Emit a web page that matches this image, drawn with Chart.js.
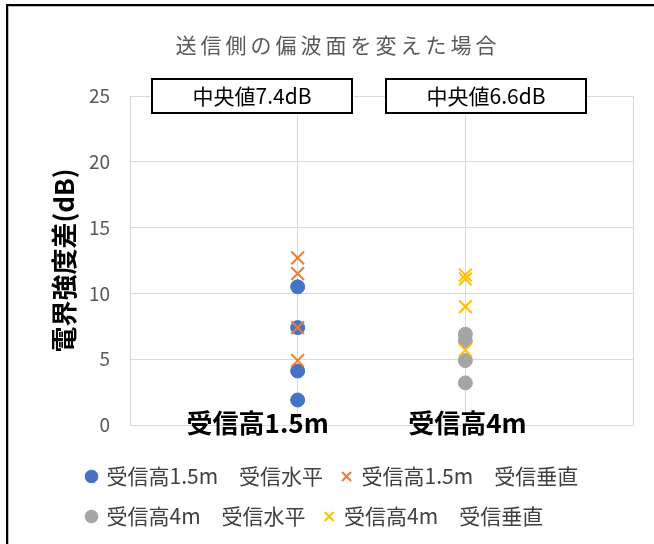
<!DOCTYPE html>
<html>
<head>
<meta charset="utf-8">
<script src="https://cdn.jsdelivr.net/npm/chart.js@4.4.0/dist/chart.umd.min.js"></script>
<style>
body { margin: 0; background: #fff; }
#frame { position: absolute; left: 6px; top: 4px; width: 700px; height: 600px; border-left: 2px solid #000; border-top: 2px solid #000; box-shadow: inset 1px 1px 0 #bbb; }
#wrap { position: absolute; left: 0; top: 0; width: 654px; height: 544px; }
</style>
</head>
<body>
<div id="frame"></div>
<div id="wrap"><canvas id="myChart"></canvas></div>
<script>
const chartTitle = '送信側の偏波面を変えた場合';
const heights = ['受信高1.5m', '受信高4m'];
const xPos = [1, 2];
const seriesNames = [
    '受信高1.5m　受信水平',
    '受信高1.5m　受信垂直',
    '受信高4m　受信水平',
    '受信高4m　受信垂直'
];
const h15Horizontal = [10.5, 7.4, 4.1, 1.9];
const h15Vertical = [12.7, 11.5, 7.4, 4.9];
const h4Horizontal = [6.9, 6.4, 4.9, 3.2];
const h4Vertical = [11.4, 11.1, 9.0, 5.7];
const medians = [7.4, 6.6];
const yTicks = [0, 5, 10, 15, 20, 25];

const FONT = '"Noto Sans CJK JP", "Noto Sans", sans-serif';

// ラベルや中央値ボックスの位置（ピクセル）
const boxCenters = [252, 486];
const labelShift = [-40, 2];

function pts(x, arr) {
    return arr.map(v => ({ x: x, y: v }));
}

const extras = {
    id: 'extras',
    afterDraw(chart) {
        const ctx = chart.ctx;
        const xs = chart.scales.x;
        ctx.save();
        ctx.textAlign = 'center';
        ctx.textBaseline = 'middle';
        // タイトル
        ctx.font = '21px ' + FONT;
        ctx.letterSpacing = '4px';
        ctx.fillStyle = '#595959';
        ctx.fillText(chartTitle, 338, 45);
        ctx.letterSpacing = '0px';
        // 中央値
        medians.forEach((m, i) => {
            const cx = boxCenters[i];
            ctx.fillStyle = '#fff';
            ctx.fillRect(cx - 100, 79, 200, 34);
            ctx.strokeStyle = '#000';
            ctx.lineWidth = 2;
            ctx.strokeRect(cx - 100, 79, 200, 34);
            ctx.fillStyle = '#000';
            ctx.font = '21px ' + FONT;
            ctx.fillText('中央値' + m.toFixed(1) + 'dB', cx, 96);
        });
        // 受信高ラベル
        ctx.font = 'bold 26px ' + FONT;
        ctx.fillStyle = '#000';
        heights.forEach((h, i) => {
            ctx.fillText(h, xs.getPixelForValue(xPos[i]) + labelShift[i], 423);
        });
        ctx.restore();
    }
};

const data = {
    datasets: [{
        label: seriesNames[0],
        data: pts(xPos[0], h15Horizontal),
        pointStyle: 'circle',
        radius: 7,
        backgroundColor: '#4472C4',
        borderColor: '#4472C4',
        borderWidth: 1,
        order: 2
    }, {
        label: seriesNames[1],
        data: pts(xPos[0], h15Vertical),
        pointStyle: 'crossRot',
        radius: 9,
        backgroundColor: '#ED7D31',
        borderColor: '#ED7D31',
        borderWidth: 2,
        order: 1
    }, {
        label: seriesNames[2],
        data: pts(xPos[1], h4Horizontal),
        pointStyle: 'circle',
        radius: 7,
        backgroundColor: '#A5A5A5',
        borderColor: '#A5A5A5',
        borderWidth: 1,
        order: 2
    }, {
        label: seriesNames[3],
        data: pts(xPos[1], h4Vertical),
        pointStyle: 'crossRot',
        radius: 9,
        backgroundColor: '#FFC000',
        borderColor: '#FFC000',
        borderWidth: 2,
        order: 1
    }]
};

const config = {
    type: 'scatter',
    data: data,
    options: {
        responsive: true,
        maintainAspectRatio: false,
        animation: false,
        layout: { padding: { top: 96, right: 21, left: 68, bottom: 7 } },
        plugins: {
            title: { display: false },
            tooltip: { enabled: false },
            legend: {
                position: 'bottom',
                align: 'start',
                labels: {
                    usePointStyle: true,
                    boxWidth: 9,
                    boxHeight: 9,
                    padding: 19,
                    color: '#404040',
                    font: { family: FONT, size: 21 },
                    sort: (a, b) => a.datasetIndex - b.datasetIndex
                }
            }
        },
        scales: {
            x: {
                type: 'linear',
                min: 0,
                max: 3,
                ticks: { display: false, stepSize: 1 },
                grid: { color: '#D9D9D9', drawTicks: false },
                border: { color: '#D9D9D9' },
                afterFit: s => { s.height = 22; }
            },
            y: {
                min: 0,
                max: 25,
                afterBuildTicks: s => { s.ticks = yTicks.map(v => ({ value: v })); },
                ticks: { color: '#595959', padding: 20, font: { family: FONT, size: 19 } },
                grid: { color: '#D9D9D9', drawTicks: false },
                border: { color: '#D9D9D9' },
                title: {
                    display: true,
                    text: '電界強度差(dB)',
                    color: '#000',
                    font: { family: FONT, size: 26, weight: 'bold' },
                    padding: { top: -19, bottom: 0 }
                },
                afterFit: s => { s.width = 62; }
            }
        }
    },
    plugins: [extras]
};

const myChart = new Chart(document.getElementById('myChart'), config);
</script>
</body>
</html>
